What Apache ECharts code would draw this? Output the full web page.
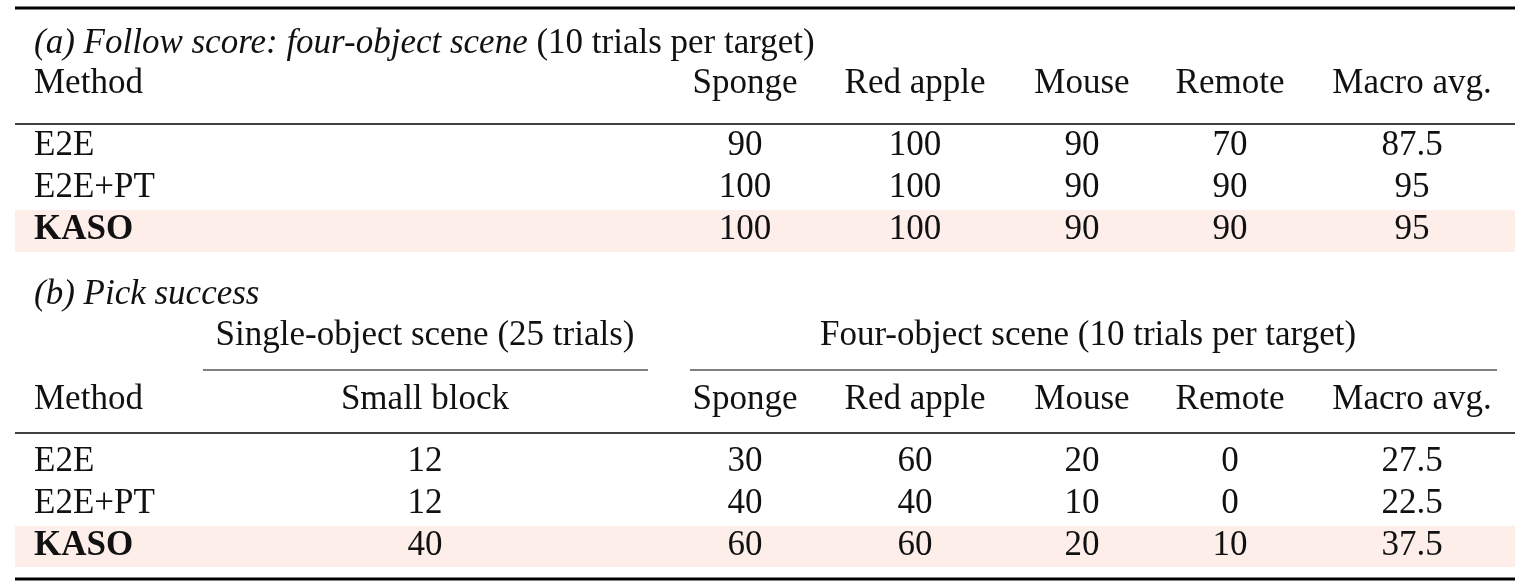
<!DOCTYPE html>
<html><head><meta charset="utf-8">
<script src="https://cdn.jsdelivr.net/npm/echarts@6/dist/echarts.min.js"></script>
<style>html,body{margin:0;padding:0;background:#fff}#c{width:1530px;height:587px}</style>
</head><body><div id="c"></div>
<script>
const targets = ['Sponge','Red apple','Mouse','Remote','Macro avg.'];
const methods = ['E2E','E2E+PT','KASO'];
const followScores = [[90,100,90,70,87.5],[100,100,90,90,95],[100,100,90,90,95]];
const pickSingle = [12,12,40];
const pickFour = [[30,60,20,0,27.5],[40,40,10,0,22.5],[60,60,20,10,37.5]];

const F = '"Liberation Serif","DejaVu Serif",serif';
const FS = 35;
const colX = [745,915,1082,1230,1412];
const texts = [], lines = [], rects = [];
function T(x,y,t,align,bold){texts.push({x,y,t,align:align||'center',bold:!!bold});}
// section a
T(34,44,'{i|(a) Follow score: four-object scene} (10 trials per target)','left');
T(34,84,'Method','left');
targets.forEach((t,i)=>T(colX[i],84,t));
const rowA=[146,188,230];
rects.push([15,210,1515,252]);
methods.forEach((m,r)=>{T(34,rowA[r],m,'left',m==='KASO');followScores[r].forEach((v,i)=>T(colX[i],rowA[r],String(v)));});
// section b
T(34,295,'{i|(b) Pick success}','left');
T(425,336,'Single-object scene (25 trials)');
T(1088,336,'Four-object scene (10 trials per target)');
T(34,400,'Method','left');
T(425,400,'Small block');
targets.forEach((t,i)=>T(colX[i],400,t));
const rowB=[462,504,546];
rects.push([15,526,1515,567]);
methods.forEach((m,r)=>{T(34,rowB[r],m,'left',m==='KASO');T(425,rowB[r],String(pickSingle[r]));pickFour[r].forEach((v,i)=>T(colX[i],rowB[r],String(v)));});
lines.push([15,8,1515,8,3],[15,124,1515,124,1.5],[203,370,648,370,1.2],[690,370,1497,370,1.2],[15,433,1515,433,1.5],[15,579,1515,579,3]);

const chart = echarts.init(document.getElementById('c'));
chart.setOption({
  animation:false,
  grid:{left:0,right:0,top:0,bottom:0},
  xAxis:{type:'value',min:0,max:1530,show:false},
  yAxis:{type:'value',min:0,max:587,inverse:true,show:false},
  series:[
    {type:'custom',data:rects,z:1,renderItem:(p,api)=>{const a=api.coord([api.value(0),api.value(1)]),b=api.coord([api.value(2),api.value(3)]);
      return {type:'rect',shape:{x:a[0],y:a[1],width:b[0]-a[0],height:b[1]-a[1]},style:{fill:'#fdeeea'}};}},
    {type:'custom',data:lines,z:2,renderItem:(p,api)=>{const a=api.coord([api.value(0),api.value(1)]),b=api.coord([api.value(2),api.value(3)]);
      return {type:'line',shape:{x1:a[0],y1:a[1],x2:b[0],y2:b[1]},style:{stroke:'#000',lineWidth:api.value(4)}};}},
    {type:'custom',data:texts.map((d,i)=>[d.x,d.y,i]),z:3,renderItem:(p,api)=>{const d=texts[p.dataIndex];const c=api.coord([d.x,d.y]);
      return {type:'text',x:c[0],y:c[1],style:{text:d.t,fontFamily:F,fontSize:FS,fontWeight:d.bold?'bold':'normal',fill:'#111',align:d.align,verticalAlign:'middle',
        rich:{i:{fontStyle:'italic',fontFamily:F,fontSize:FS,fill:'#111'}}}};}}
  ]
});
</script></body></html>
